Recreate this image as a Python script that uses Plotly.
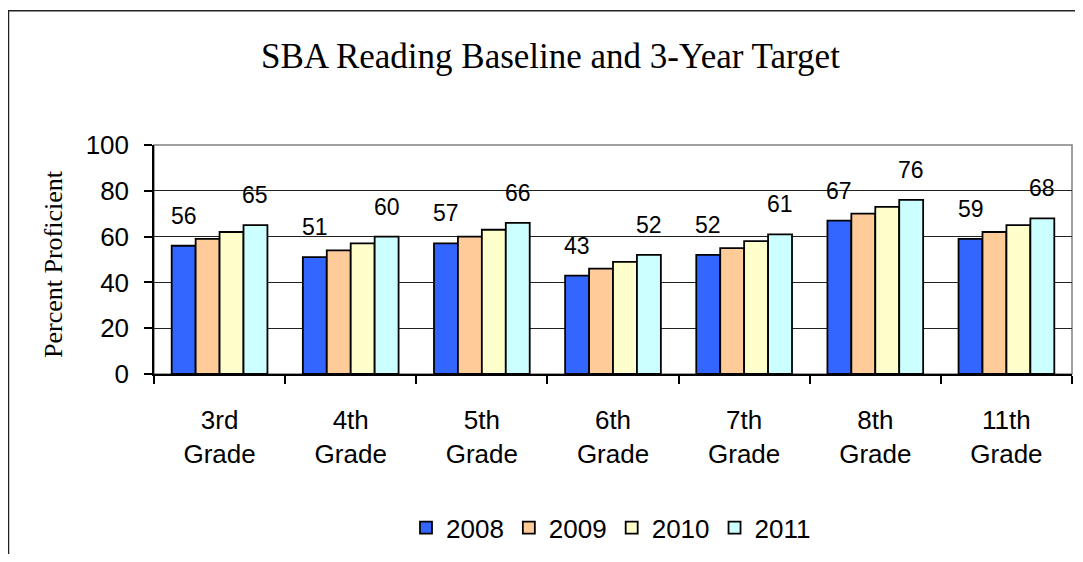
import plotly.graph_objects as go

grades = ["3rd<br>Grade", "4th<br>Grade", "5th<br>Grade", "6th<br>Grade", "7th<br>Grade", "8th<br>Grade", "11th<br>Grade"]
years = ["2008", "2009", "2010", "2011"]
v2008 = [56, 51, 57, 43, 52, 67, 59]
v2009 = [59, 54, 60, 46, 55, 70, 62]
v2010 = [62, 57, 63, 49, 58, 73, 65]
v2011 = [65, 60, 66, 52, 61, 76, 68]
colors = ["#3366FF", "#FFCC99", "#FFFFCC", "#CCFFFF"]
labelled = {"2008": 0, "2011": 3}

series = [v2008, v2009, v2010, v2011]

# page body has an 8px margin; work in reference-window pixels and convert
OFF = 8
W, H = 1083 - 2 * OFF, 562 - 2 * OFF
L, R, T, B = 154 - OFF, 1072 - OFF, 145 - OFF, 376 - OFF
pw, ph = R - L, B - T
bargap = 0.27
cat_px = pw / len(grades)
bar_px = cat_px * (1 - bargap) / len(years)


def px_x(p):
    return (p - OFF - L) / pw


def px_y(p):
    return (B - (p - OFF)) / ph


fig = go.Figure()
for name, vals, col in zip(years, series, colors):
    fig.add_trace(go.Bar(
        name=name, x=grades, y=vals,
        marker=dict(color=col, line=dict(color="black", width=1.8)),
    ))

for name, idx in labelled.items():
    vals = series[idx]
    xs = (idx - (len(years) - 1) / 2) * bar_px
    for g, v in zip(grades, vals):
        fig.add_annotation(x=g, y=v, xref="x", yref="y", text=str(v),
                           showarrow=False, xshift=xs, yshift=30,
                           font=dict(family="Arial, Liberation Sans", size=23, color="black"))

# plot area border (grey top/right)
fig.add_shape(type="rect", xref="paper", yref="paper", x0=0, x1=1, y0=0, y1=1,
              line=dict(color="#808080", width=1.5), layer="below")
# outer chart border
fig.add_shape(type="rect", xref="paper", yref="paper",
              x0=px_x(8.5), x1=px_x(1076), y0=px_y(620), y1=px_y(9.5),
              line=dict(color="#222222", width=1.5))

fig.add_annotation(xref="paper", yref="paper", x=px_x(54), y=px_y(265),
                   text="Percent Proficient", textangle=-90, showarrow=False,
                   xanchor="center", yanchor="middle",
                   font=dict(family="Times New Roman, Liberation Serif", size=26, color="black"))

fig.add_annotation(xref="paper", yref="paper", x=px_x(550), y=px_y(56),
                   text="SBA Reading Baseline and 3-Year Target", showarrow=False,
                   xanchor="center", yanchor="middle",
                   font=dict(family="Times New Roman, Liberation Serif", size=35, color="black"))

fig.update_layout(
    width=W, height=H,
    margin=dict(l=L, r=W - R, t=T, b=H - B, pad=0),
    paper_bgcolor="white", plot_bgcolor="white",
    barmode="group", bargap=bargap, bargroupgap=0,
    font=dict(family="Arial, Liberation Sans", color="black"),
    showlegend=True,
    legend=dict(orientation="h", x=px_x(611), xanchor="center",
                y=px_y(531), yanchor="middle",
                font=dict(family="Arial, Liberation Sans", size=26, color="black"),
                itemwidth=30, tracegroupgap=0),
)
fig.update_yaxes(range=[0, 100], dtick=20, showline=True, linecolor="black", linewidth=1.5,
                 ticks="outside", ticklen=8, tickcolor="black", tickwidth=1.5,
                 showgrid=True, gridcolor="#222222", gridwidth=1, zeroline=False,
                 tickfont=dict(family="Arial, Liberation Sans", size=26, color="black"),
                 ticklabelstandoff=10)
fig.update_xaxes(showline=True, linecolor="black", linewidth=1.5,
                 ticks="outside", ticklen=8, tickcolor="black", tickwidth=1.5,
                 tickson="boundaries", showgrid=False,
                 tickfont=dict(family="Arial, Liberation Sans", size=26, color="black"),
                 ticklabelstandoff=22)

fig.write_html("out.html")
